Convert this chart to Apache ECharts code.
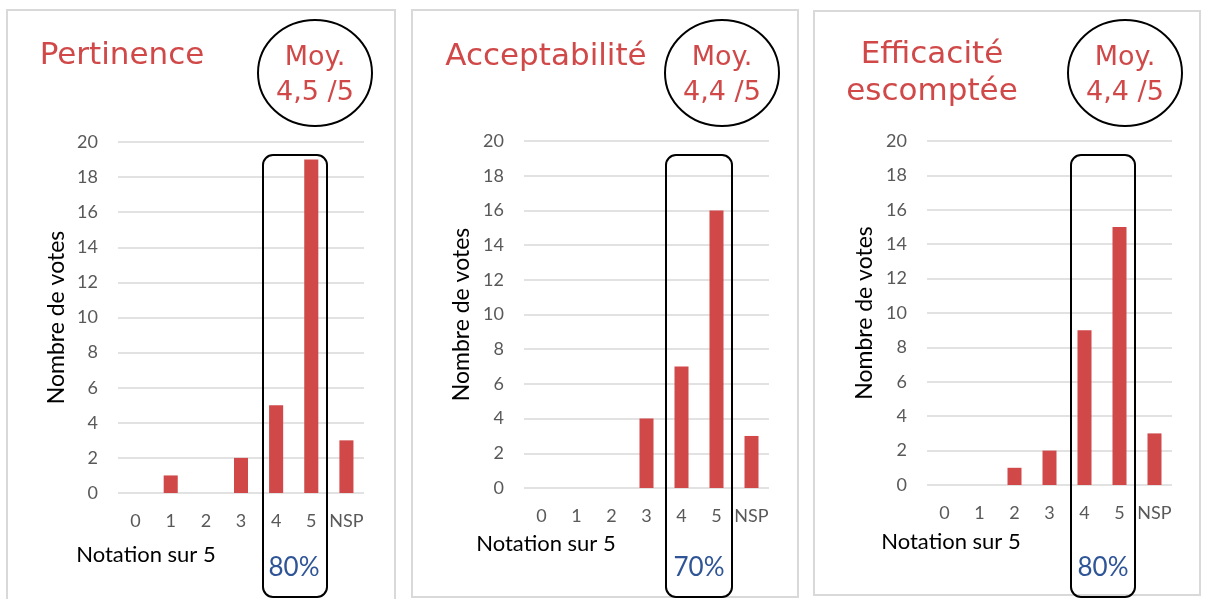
<!DOCTYPE html>
<html><head><meta charset="utf-8">
<script src="https://cdn.jsdelivr.net/npm/echarts@6/dist/echarts.min.js"></script>
<style>html,body{margin:0;padding:0;background:#fff}#c{width:1205px;height:599px}</style>
</head><body><div id="c"></div>
<script>
const categories = ['0','1','2','3','4','5','NSP'];
const pertinence = [0,1,0,2,5,19,3];
const acceptabilite = [0,0,0,4,7,16,3];
const efficacite = [0,0,1,2,9,15,3];
const titles = ['Pertinence','Acceptabilité','Efficacité\nescomptée'];
const moyennes = ['Moy.\n4,5 /5','Moy.\n4,4 /5','Moy.\n4,4 /5'];
const pourcentages = ['80%','70%','80%'];
const yTicks = {min:0,max:20,interval:2};

const RED = '#D04848', BLUE = '#2F5597', GRID = '#D9D9D9';
const grids = [
  {left:118, top:142, width:246, height:351},
  {left:524, top:141, width:245, height:347},
  {left:927, top:141, width:245, height:344}
];
const seriesData = [pertinence, acceptabilite, efficacite];

const panels = [
  {x:7,y:10,w:388,h:600, tx:122, ty:56, cx:315, yName:57, xNameX:146, xNameY:555, boxX:263, boxW:64, pctX:294},
  {x:412,y:10,w:386,h:587, tx:546, ty:57, cx:722, yName:462, xNameX:546, xNameY:544, boxX:666, boxW:66, pctX:699},
  {x:814,y:11,w:386,h:584, tx:932, ty:56, cx:1125, yName:865, xNameX:951, xNameY:542, boxX:1071, boxW:64, pctX:1103}
];

const graphic = [];
panels.forEach((p,i)=>{
  graphic.push({type:'rect', z:-10, silent:true, shape:{x:p.x,y:p.y,width:p.w,height:p.h}, style:{fill:'none', stroke:GRID, lineWidth:2}});
  graphic.push({type:'text', style:{text:titles[i], x:p.tx, y:i===2?73:p.ty, align:'center', verticalAlign:'middle', fill:RED, font:'31px "DejaVu Sans"', lineHeight:37}});
  graphic.push({type:'ellipse', shape:{cx:p.cx, cy:73, rx:57, ry:53}, style:{fill:'none', stroke:'#000', lineWidth:2}});
  graphic.push({type:'text', style:{text:moyennes[i], x:p.cx, y:75, align:'center', verticalAlign:'middle', fill:RED, font:'27px "DejaVu Sans"', lineHeight:35}});
  graphic.push({type:'text', rotation:Math.PI/2, x:p.yName, y:(grids[i].top+grids[i].top+grids[i].height)/2, style:{text:'Nombre de votes', x:0, y:0, align:'center', verticalAlign:'middle', fill:'#000', font:'23px Lato'}});
  graphic.push({type:'text', style:{text:'Notation sur 5', x:p.xNameX, y:p.xNameY, align:'center', verticalAlign:'middle', fill:'#000', font:'22px Lato'}});
  graphic.push({type:'rect', z:100, shape:{x:p.boxX, y:155, width:p.boxW, height:442, r:10}, style:{fill:'none', stroke:'#000', lineWidth:2}});
  graphic.push({type:'text', z:100, style:{text:pourcentages[i], x:p.pctX, y:568, align:'center', verticalAlign:'middle', fill:BLUE, font:'26px Lato'}});
});

const option = {
  backgroundColor:'#fff',
  animation:false,
  grid: grids,
  xAxis: grids.map((g,i)=>({type:'category', gridIndex:i, data:categories,
    axisTick:{show:false}, axisLine:{show:false},
    axisLabel:{interval:0, margin:19, color:'#595959', fontSize:18, fontFamily:'Lato'}})),
  yAxis: grids.map((g,i)=>({type:'value', gridIndex:i, min:yTicks.min, max:yTicks.max, interval:yTicks.interval,
    axisLine:{show:false}, axisTick:{show:false},
    axisLabel:{margin:20, color:'#595959', fontSize:18, fontFamily:'Lato'},
    splitLine:{lineStyle:{color:GRID, width:1.5}}})),
  series: seriesData.map((d,i)=>({type:'bar', xAxisIndex:i, yAxisIndex:i, data:d, barWidth:'40%', itemStyle:{color:RED}})),
  graphic: graphic
};
const chart = echarts.init(document.getElementById('c'));
chart.setOption(option);
</script></body></html>
